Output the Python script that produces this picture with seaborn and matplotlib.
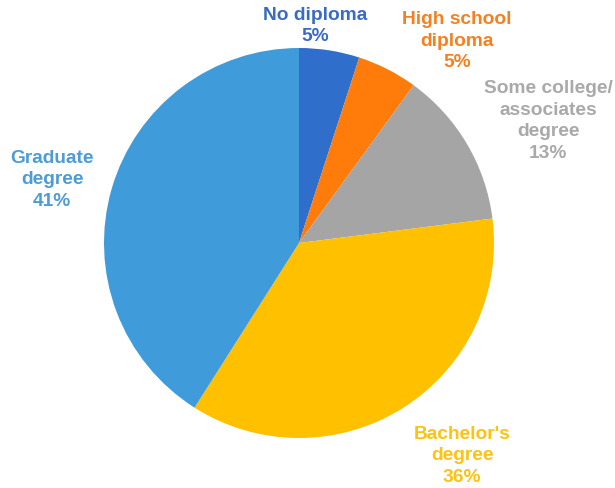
import matplotlib
matplotlib.use("Agg")
import matplotlib.pyplot as plt
import seaborn as sns

# Education level shares (percent)
categories = ["No diploma", "High school\ndiploma", "Some college/\nassociates\ndegree",
              "Bachelor's\ndegree", "Graduate\ndegree"]
shares = [5, 5, 13, 36, 41]
slice_colors = ["#2F6ECB", "#FF7B0A", "#A5A5A5", "#FFC000", "#3F9BDA"]
label_colors = ["#3A6BC2", "#F7801E", "#A9A9A9", "#FFC20E", "#4E9CD6"]

sns.set_theme(style="white")
plt.rcParams["font.family"] = ["Liberation Sans", "DejaVu Sans"]

W, H = 615, 489
fig = plt.figure(figsize=(W / 100, H / 100), dpi=100)

# pie centre and radius in pixels
cx, cy, r = 299, 244, 195
ax = fig.add_axes([(cx - r) / W, (H - cy - r) / H, 2 * r / W, 2 * r / H])
palette = sns.color_palette(slice_colors)
ax.pie(shares, colors=palette, startangle=90, counterclock=False, radius=1,
       wedgeprops=dict(linewidth=0))
ax.set_xlim(-1, 1)
ax.set_ylim(-1, 1)
ax.set_aspect("equal")
ax.axis("off")

# label anchor positions (pixel centres of each text block)
label_pos = [(315, 26), (457, 41), (548, 121), (462, 456), (52, 180)]
for name, val, col, (px, py) in zip(categories, shares, label_colors, label_pos):
    fig.text(px / W, 1 - py / H, f"{name}\n{val}%", color=col, fontsize=13.8,
             fontweight="bold", ha="center", va="center", linespacing=1.36)

fig.savefig("out.png", dpi=100, facecolor="white")
